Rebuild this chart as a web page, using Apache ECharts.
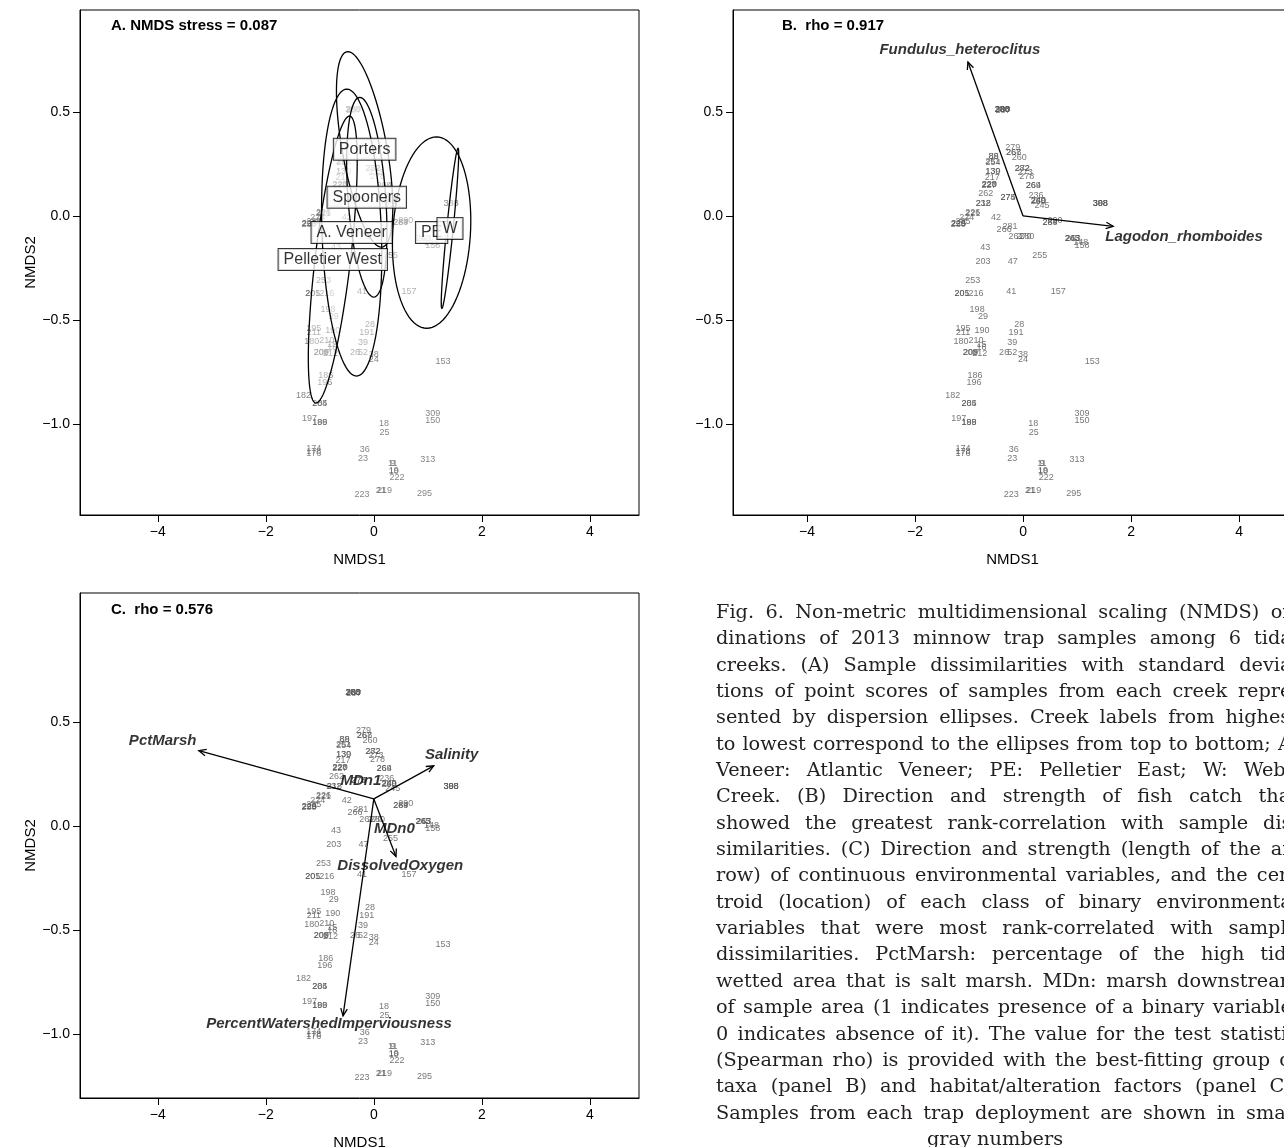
<!DOCTYPE html>
<html>
<head>
<meta charset="utf-8">
<title>NMDS ordinations of minnow trap samples</title>
<script src="https://cdn.jsdelivr.net/npm/echarts@6/dist/echarts.min.js"></script>
<style>
  html, body { margin: 0; padding: 0; background: #fff; overflow: hidden; }
  #chart { position: absolute; left: 0; top: 0; width: 1284px; height: 1147px; }
  #caption {
    position: absolute; left: 716px; top: 599px; width: 582px;
    font-family: 'DejaVu Serif', serif; font-size: 19.3px; line-height: 26.35px; color: #231f20;
  }
  #caption div { text-align: justify; text-align-last: justify; white-space: nowrap; }
  #caption div.last { text-align: left; text-align-last: left; padding-left: 211px; }
</style>
</head>
<body>
<div id="chart"></div>
<div id="caption">
  <div>Fig. 6. Non-metric multidimensional scaling (NMDS) or-</div>
  <div>dinations of 2013 minnow trap samples among 6 tidal</div>
  <div>creeks. (A) Sample dissimilarities with standard devia-</div>
  <div>tions of point scores of samples from each creek repre-</div>
  <div>sented by dispersion ellipses. Creek labels from highest</div>
  <div>to lowest correspond to the ellipses from top to bottom; A.</div>
  <div>Veneer: Atlantic Veneer; PE: Pelletier East; W: Webb</div>
  <div>Creek. (B) Direction and strength of fish catch that</div>
  <div>showed the greatest rank-correlation with sample dis-</div>
  <div>similarities. (C) Direction and strength (length of the ar-</div>
  <div>row) of continuous environmental variables, and the cen-</div>
  <div>troid (location) of each class of binary environmental</div>
  <div>variables that were most rank-correlated with sample</div>
  <div>dissimilarities. PctMarsh: percentage of the high tide</div>
  <div>wetted area that is salt marsh. MDn: marsh downstream</div>
  <div>of sample area (1 indicates presence of a binary variable,</div>
  <div>0 indicates absence of it). The value for the test statistic</div>
  <div>(Spearman rho) is provided with the best-fitting group of</div>
  <div>taxa (panel B) and habitat/alteration factors (panel C).</div>
  <div>Samples from each trap deployment are shown in small</div>
  <div class="last">gray numbers</div>
</div>
<script>
// sample scores (NMDS1, NMDS2), labelled by trap deployment id
const sampleIds = ['288','286','287','283','300',
  '279','268','267','260','88','89','251','254','139','130','217',
  '228','220','227','262','275','274','282','272','273','278',
  '269','264','236','249','250','240','245','232','218','226','221',
  '224','229','225','230','235','42','281','266','261','270','280',
  '289','284','290','265','263','243','148','158','398','388','308',
  '43','203','47','255','253','205','201','216','41','157','198','29',
  '195','211','190','28','191','180','210','15','16','208','209','212',
  '39','26','52','38','24','153','186','196','182','285','204',
  '309','150','197','199','188','18','25','174','176','178','36','23',
  '313','9','11','19','10','222','223','21','219','295'];
const sampleX = [-0.38,-0.39,-0.37,-0.385,-0.375,
  -0.19,-0.17,-0.175,-0.07,-0.54,-0.545,-0.56,-0.555,-0.56,-0.555,-0.57,
  -0.63,-0.62,-0.63,-0.69,-0.28,-0.28,-0.02,-0.01,0.04,0.07,
  0.19,0.195,0.24,0.28,0.28,0.285,0.35,-0.74,-0.73,-0.93,-0.93,
  -1.04,-1.20,-1.19,-1.20,-1.11,-0.50,-0.24,-0.35,-0.13,0.02,0.07,
  0.50,0.50,0.59,0.91,0.93,0.91,1.07,1.09,1.43,1.43,1.435,
  -0.70,-0.74,-0.19,0.31,-0.93,-1.13,-1.13,-0.87,-0.22,0.65,-0.85,-0.74,
  -1.11,-1.11,-0.76,-0.07,-0.13,-1.15,-0.87,-0.77,-0.77,-0.98,-0.97,-0.80,
  -0.20,-0.35,-0.20,0.0,0.0,1.28,-0.89,-0.91,-1.30,-1.0,-1.0,
  1.09,1.09,-1.19,-1.0,-1.0,0.19,0.20,-1.11,-1.11,-1.11,-0.17,-0.20,
  1.0,0.35,0.35,0.37,0.37,0.43,-0.22,0.13,0.20,0.94];
const sampleY = [0.51,0.512,0.508,0.51,0.51,
  0.33,0.305,0.305,0.28,0.285,0.285,0.262,0.258,0.212,0.212,0.183,
  0.15,0.15,0.148,0.11,0.09,0.09,0.23,0.23,0.21,0.19,
  0.145,0.145,0.10,0.075,0.07,0.075,0.05,0.06,0.06,0.015,0.013,
  -0.01,-0.035,-0.035,-0.04,-0.025,-0.01,-0.05,-0.065,-0.10,-0.10,-0.10,
  -0.03,-0.03,-0.02,-0.11,-0.11,-0.11,-0.13,-0.14,0.06,0.06,0.06,
  -0.15,-0.22,-0.22,-0.19,-0.31,-0.375,-0.375,-0.375,-0.365,-0.365,-0.45,-0.485,
  -0.54,-0.56,-0.55,-0.52,-0.56,-0.605,-0.60,-0.62,-0.635,-0.655,-0.655,-0.66,
  -0.61,-0.655,-0.655,-0.665,-0.69,-0.70,-0.765,-0.80,-0.865,-0.90,-0.90,
  -0.95,-0.985,-0.975,-0.995,-0.995,-1.0,-1.04,-1.12,-1.14,-1.135,-1.125,-1.165,
  -1.17,-1.19,-1.19,-1.225,-1.23,-1.26,-1.34,-1.32,-1.32,-1.335];

// creek dispersion ellipses: centre, half-axis towards the top, horizontal half-width
const creekNames = ['Porters', 'Spooners', 'A. Veneer', 'Pelletier West', 'PE', 'W'];
const creekX = [-0.17, -0.13, -0.41, -0.76, 1.07, 1.41];
const creekY = [0.32, 0.09, -0.08, -0.21, -0.08, -0.06];
const ellTopX = [-0.31, -0.13, -0.09, 0.31, 0.09, 0.15];
const ellTopY = [0.47, 0.48, 0.69, 0.69, 0.46, 0.385];
const ellHalfW = [0.42, 0.35, 0.55, 0.33, 0.72, 0.06];

// panel B: fish vectors
const fishNames = ['Fundulus_heteroclitus', 'Lagodon_rhomboides'];
const fishX = [-1.02, 1.67];
const fishY = [0.74, -0.05];
const fishLabelX = [-1.17, 2.98];
const fishLabelY = [0.80, -0.10];

// panel C: environmental vectors and binary centroids
const envNames = ['PctMarsh', 'Salinity', 'DissolvedOxygen', 'PercentWatershedImperviousness'];
const envX = [-3.24, 1.11, 0.41, -0.57];
const envY = [0.232, 0.159, -0.277, -1.043];
const envLabelX = [-3.91, 1.44, 0.49, -0.83];
const envLabelY = [0.28, 0.21, -0.32, -1.08];
const centroidNames = ['MDn1', 'MDn0'];
const centroidX = [-0.24, 0.38];
const centroidY = [0.087, -0.144];

const xTicks = [-4, -2, 0, 2, 4];
const yTicks = [-1, -0.5, 0, 0.5];

const FONT = "'Liberation Sans', Arial, Helvetica, sans-serif";
const minus = v => (v < 0 ? '\u2212' + Math.abs(v) : String(v));

function xAx(gi, min, max) {
  return {
    gridIndex: gi, type: 'value', min: min, max: max,
    name: 'NMDS1', nameLocation: 'middle', nameGap: 37,
    nameTextStyle: { fontSize: 15, fontFamily: FONT, color: '#000' },
    splitLine: { show: false },
    axisLine: { show: true, onZero: false, lineStyle: { color: '#000', width: 1 } },
    axisTick: { show: true, length: 7, customValues: xTicks, lineStyle: { color: '#000' } },
    axisLabel: { customValues: xTicks, margin: 10, fontSize: 14, fontFamily: FONT, color: '#000', formatter: minus }
  };
}
function yAx(gi, min, max, name) {
  return {
    gridIndex: gi, type: 'value', position: 'left', min: min, max: max,
    name: name, nameLocation: 'middle', nameGap: 41,
    nameTextStyle: { fontSize: 15, fontFamily: FONT, color: '#000' },
    splitLine: { show: false },
    axisLine: { show: true, onZero: false, lineStyle: { color: '#000', width: 1 } },
    axisTick: { show: true, length: 7, customValues: yTicks, lineStyle: { color: '#000' } },
    axisLabel: { customValues: yTicks, margin: 10, fontSize: 14, fontFamily: FONT, color: '#000',
      formatter: v => (v < 0 ? '\u2212' + Math.abs(v).toFixed(1) : v.toFixed(1)) }
  };
}

function sampleSeries(xi, yi, color) {
  return {
    type: 'scatter', xAxisIndex: xi, yAxisIndex: yi, z: 2, silent: true,
    symbolSize: 1, itemStyle: { color: 'rgba(0,0,0,0)' },
    label: { show: true, position: 'inside', formatter: '{b}', fontSize: 9, fontFamily: FONT, color: color },
    data: sampleIds.map((id, i) => ({ name: id, value: [sampleX[i], sampleY[i]] }))
  };
}

function textSeries(xi, yi, names, xs, ys) {
  return {
    type: 'scatter', xAxisIndex: xi, yAxisIndex: yi, z: 6, silent: true,
    symbolSize: 1, itemStyle: { color: 'rgba(0,0,0,0)' },
    label: { show: true, position: 'inside', formatter: '{b}', fontSize: 15, fontWeight: 'bold',
      fontStyle: 'italic', fontFamily: FONT, color: '#000' },
    data: names.map((n, i) => ({ name: n, value: [xs[i], ys[i]] }))
  };
}

function ellipsePoints(api) {
  const cx = api.value(0), cy = api.value(1), ax = api.value(2), ay = api.value(3), w = api.value(4);
  const pts = [];
  for (let k = 0; k < 90; k++) {
    const t = k / 90 * Math.PI * 2;
    pts.push(api.coord([cx + ax * Math.cos(t) + w * Math.sin(t), cy + ay * Math.cos(t)]));
  }
  return pts;
}
const ellipseData = creekNames.map((n, i) => [creekX[i], creekY[i], ellTopX[i], ellTopY[i], ellHalfW[i]]);

function arrowSeries(xi, yi, xs, ys) {
  return {
    type: 'custom', xAxisIndex: xi, yAxisIndex: yi, z: 5, silent: true,
    encode: { x: 0, y: 1 },
    data: xs.map((x, i) => [x, ys[i]]),
    renderItem: (params, api) => {
      const p0 = api.coord([0, 0]);
      const p1 = api.coord([api.value(0), api.value(1)]);
      const ang = Math.atan2(p1[1] - p0[1], p1[0] - p0[0]);
      const L = 8, a = 0.42;
      const h1 = [p1[0] - L * Math.cos(ang - a), p1[1] - L * Math.sin(ang - a)];
      const h2 = [p1[0] - L * Math.cos(ang + a), p1[1] - L * Math.sin(ang + a)];
      return {
        type: 'group', children: [
          { type: 'line', shape: { x1: p0[0], y1: p0[1], x2: p1[0], y2: p1[1] }, style: { stroke: '#000', lineWidth: 1.3 } },
          { type: 'polyline', shape: { points: [h1, p1, h2] }, style: { stroke: '#000', lineWidth: 1.3, fill: null } }
        ]
      };
    }
  };
}

const chart = echarts.init(document.getElementById('chart'), null, { renderer: 'canvas' });
const gridBase = { show: true, borderColor: '#000', borderWidth: 1, backgroundColor: 'transparent', containLabel: false, outerBoundsMode: 'none' };
const titleStyle = { fontSize: 15, fontWeight: 'bold', fontFamily: FONT, color: '#000' };

chart.setOption({
  animation: false,
  title: [
    { text: 'A. NMDS stress = 0.087', left: 106, top: 13, textStyle: titleStyle },
    { text: 'B.  rho = 0.917', left: 777, top: 13, textStyle: titleStyle },
    { text: 'C.  rho = 0.576', left: 106, top: 597, textStyle: titleStyle }
  ],
  grid: [
    Object.assign({ left: 80, top: 10, width: 559, height: 505 }, gridBase),
    Object.assign({ left: 733, top: 10, width: 559, height: 505 }, gridBase),
    Object.assign({ left: 80, top: 593, width: 559, height: 505 }, gridBase)
  ],
  xAxis: [
    xAx(0, -5.44, 4.91),
    xAx(1, -5.37, 4.98),
    xAx(2, -5.44, 4.91)
  ],
  yAxis: [
    yAx(0, -1.438, 0.99, 'NMDS2'),
    yAx(1, -1.438, 0.99, ''),
    Object.assign(yAx(2, -1.438, 0.99, ''), { show: false }),
    yAx(2, -1.308, 1.12, 'NMDS2')
  ],
  series: [
    // panel A
    sampleSeries(0, 0, '#666'),
    {
      type: 'custom', xAxisIndex: 0, yAxisIndex: 0, z: 3, silent: true, encode: { x: 0, y: 1 },
      data: ellipseData,
      renderItem: (params, api) => ({ type: 'polygon', shape: { points: ellipsePoints(api) },
        style: { fill: 'rgba(255,255,255,0.38)', stroke: null } })
    },
    {
      type: 'custom', xAxisIndex: 0, yAxisIndex: 0, z: 4, silent: true, encode: { x: 0, y: 1 },
      data: ellipseData,
      renderItem: (params, api) => ({ type: 'polygon', shape: { points: ellipsePoints(api) },
        style: { fill: null, stroke: '#000', lineWidth: 1.3 } })
    },
    {
      type: 'scatter', xAxisIndex: 0, yAxisIndex: 0, z: 6, silent: true,
      symbolSize: 1, itemStyle: { color: 'rgba(0,0,0,0)' },
      label: { show: true, position: 'inside', formatter: '{b}', fontSize: 16, fontFamily: FONT, color: '#000',
        backgroundColor: '#fff', borderColor: '#000', borderWidth: 1, padding: [3, 5, 2, 5] },
      data: creekNames.map((n, i) => ({ name: n, value: [creekX[i], creekY[i]] }))
    },
    // panel B
    sampleSeries(1, 1, '#555'),
    arrowSeries(1, 1, fishX, fishY),
    textSeries(1, 1, fishNames, fishLabelX, fishLabelY),
    // panel C
    sampleSeries(2, 2, '#555'),
    arrowSeries(2, 2, envX, envY),
    textSeries(2, 2, envNames, envLabelX, envLabelY),
    textSeries(2, 2, centroidNames, centroidX, centroidY)
  ]
});
</script>
</body>
</html>
